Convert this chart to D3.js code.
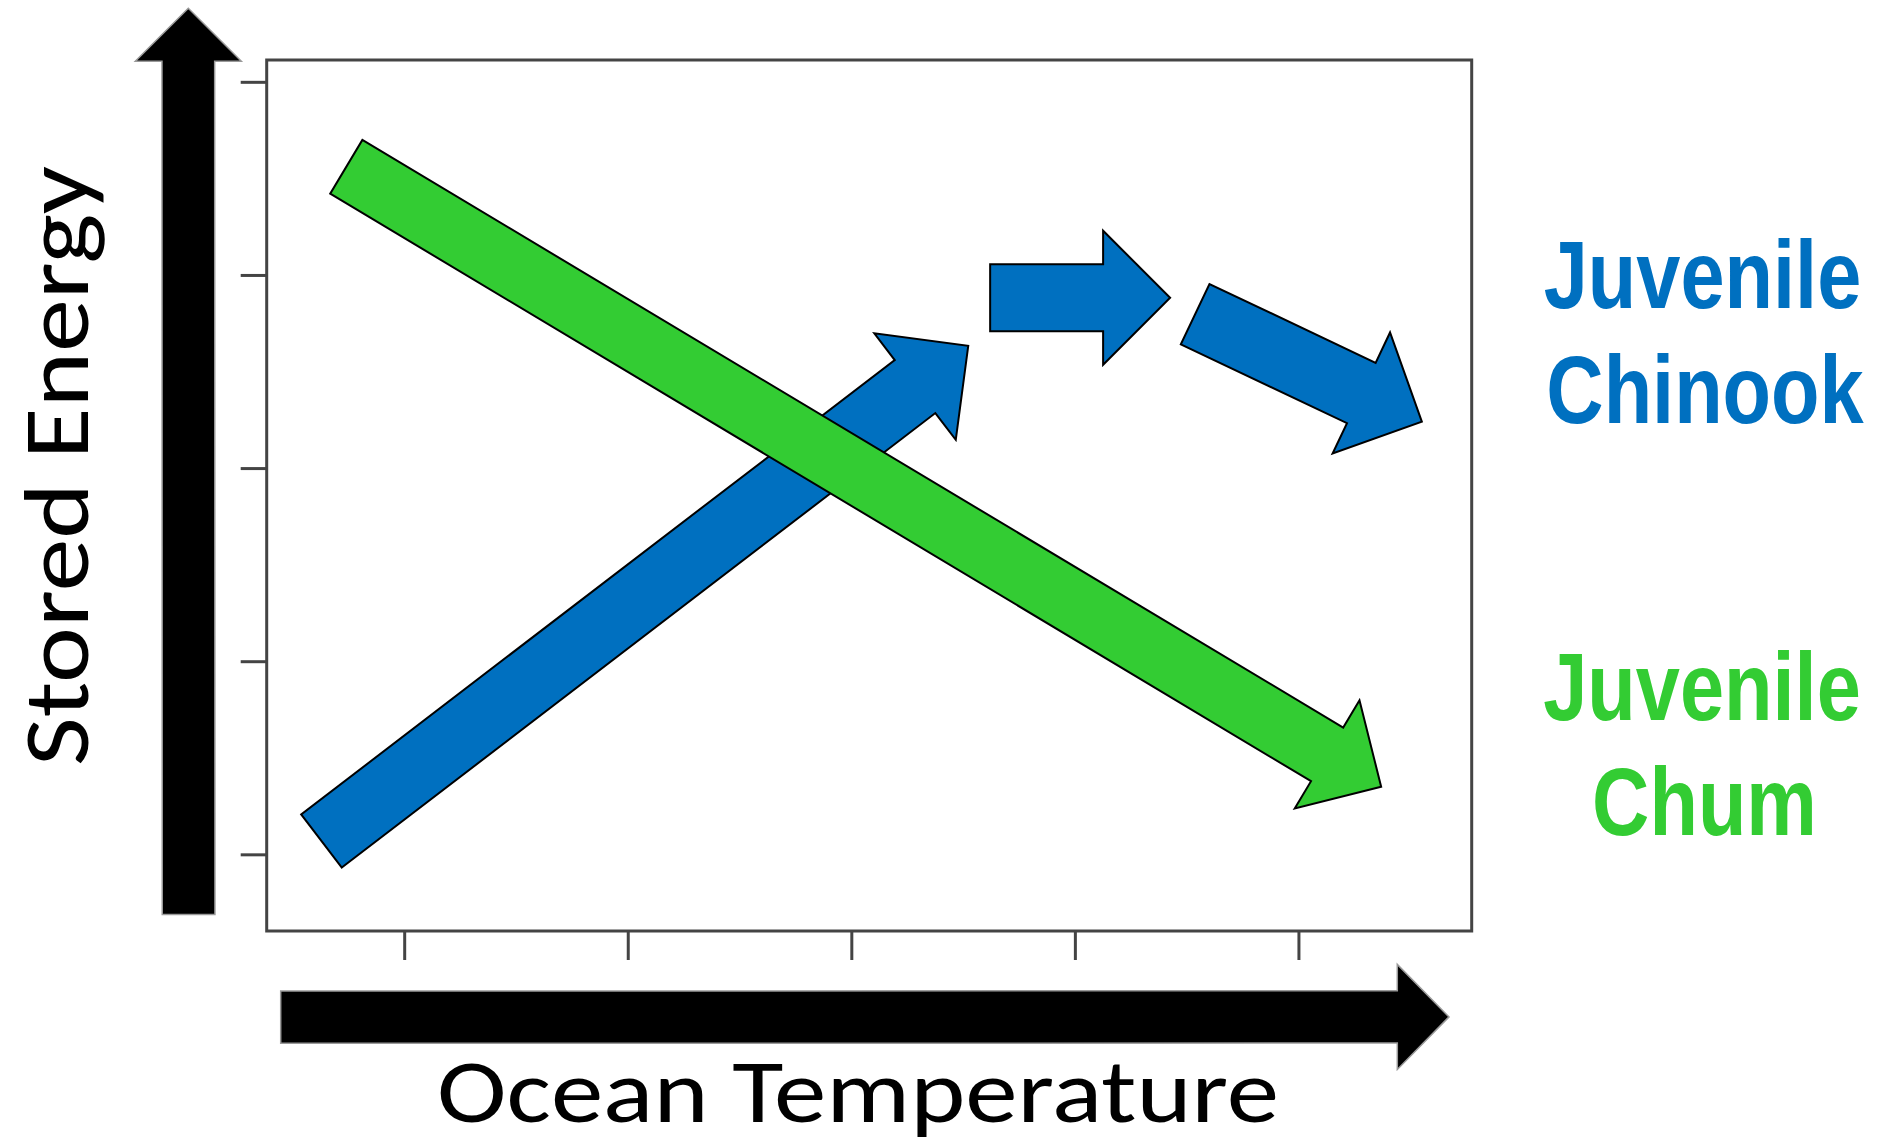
<!DOCTYPE html>
<html>
<head>
<meta charset="utf-8">
<script src="https://cdn.jsdelivr.net/npm/d3@7"></script>
<style>
  html, body { margin: 0; padding: 0; background: #fff; }
  svg { display: block; }
</style>
</head>
<body>
<svg id="chart" width="1887" height="1145"></svg>
<script>
// ---------- data (conceptual arrows in data units) ----------
const xTicks = [1, 2, 3, 4, 5];
const yTicks = [1, 2, 3, 4, 5];
const xDomain = [0.385, 5.775];
const yDomain = [0.603, 5.113];

// Juvenile Chinook trend segments: [x0, y0, x1, y1]
const chinookSegments = [
  [0.630, 1.069, 3.523, 3.633],
  [3.621, 3.882, 4.426, 3.882],
  [4.538, 3.797, 5.552, 3.240]
];
// Juvenile Chum trend
const chumSegments = [
  [0.741, 4.560, 5.370, 1.350]
];

const seriesLabels = [
  { lines: ["Juvenile", "Chinook"], color: "#0070C0" },
  { lines: ["Juvenile", "Chum"], color: "#33CC33" }
];
const xTitle = "Ocean Temperature";
const yTitle = "Stored Energy";

// ---------- layout ----------
const svg = d3.select("#chart");
const plot = { left: 266.7, right: 1471.7, top: 60, bottom: 931 };

const x = d3.scaleLinear().domain(xDomain).range([plot.left, plot.right]);
const y = d3.scaleLinear().domain(yDomain).range([plot.bottom, plot.top]);

function arrowPath(sx, sy, tx, ty, w, hw, hl) {
  const dx = tx - sx, dy = ty - sy;
  const L = Math.hypot(dx, dy);
  const ux = dx / L, uy = dy / L;
  const nx = -uy, ny = ux;
  const bx = tx - ux * hl, by = ty - uy * hl;
  const pts = [
    [sx + nx * w / 2, sy + ny * w / 2],
    [bx + nx * w / 2, by + ny * w / 2],
    [bx + nx * hw / 2, by + ny * hw / 2],
    [tx, ty],
    [bx - nx * hw / 2, by - ny * hw / 2],
    [bx - nx * w / 2, by - ny * w / 2],
    [sx - nx * w / 2, sy - ny * w / 2]
  ];
  return "M" + pts.map(p => p[0].toFixed(2) + "," + p[1].toFixed(2)).join("L") + "Z";
}

// ---------- black axis arrows ----------
svg.append("path")
  .attr("d", arrowPath(188.6, 914.6, 188.3, 8.3, 52.7, 106, 53))
  .attr("fill", "#000").attr("stroke", "#9a9a9a").attr("stroke-width", 1.5);
svg.append("path")
  .attr("d", arrowPath(280.7, 1017.2, 1449, 1016.9, 52.3, 105, 51.7))
  .attr("fill", "#000").attr("stroke", "#9a9a9a").attr("stroke-width", 1.5);

// ---------- plot frame & ticks ----------
svg.append("rect")
  .attr("x", plot.left).attr("y", plot.top)
  .attr("width", plot.right - plot.left).attr("height", plot.bottom - plot.top)
  .attr("fill", "none").attr("stroke", "#444").attr("stroke-width", 3);

const yAxis = svg.append("g")
  .attr("transform", `translate(${plot.left},0)`)
  .call(d3.axisLeft(y).tickValues(yTicks).tickSize(26).tickSizeOuter(0).tickFormat(""));
const xAxis = svg.append("g")
  .attr("transform", `translate(0,${plot.bottom})`)
  .call(d3.axisBottom(x).tickValues(xTicks).tickSize(29).tickSizeOuter(0).tickFormat(""));
[xAxis, yAxis].forEach(g => {
  g.select(".domain").remove();
  g.selectAll(".tick line").attr("stroke", "#444").attr("stroke-width", 3);
});

// ---------- trend arrows ----------
const g = svg.append("g");
chinookSegments.forEach(s => {
  g.append("path")
    .attr("d", arrowPath(x(s[0]), y(s[1]), x(s[2]), y(s[3]), 66.8, 134, 67))
    .attr("fill", "#0070C0").attr("stroke", "#000").attr("stroke-width", 2)
    .attr("stroke-linejoin", "miter");
});
chumSegments.forEach(s => {
  g.append("path")
    .attr("d", arrowPath(x(s[0]), y(s[1]), x(s[2]), y(s[3]), 62.6, 126, 63))
    .attr("fill", "#33CC33").attr("stroke", "#000").attr("stroke-width", 2)
    .attr("stroke-linejoin", "miter");
});

// ---------- titles ----------
svg.append("text")
  .attr("x", 858).attr("y", 1122)
  .attr("text-anchor", "middle")
  .attr("font-family", "Carlito, 'Open Sans', sans-serif")
  .attr("font-size", 90)
  .attr("textLength", 842).attr("lengthAdjust", "spacingAndGlyphs")
  .attr("fill", "#000")
  .text(xTitle);

svg.append("text")
  .attr("transform", "translate(88,466) rotate(-90)")
  .attr("text-anchor", "middle")
  .attr("font-family", "Carlito, 'Open Sans', sans-serif")
  .attr("font-size", 92)
  .attr("textLength", 600).attr("lengthAdjust", "spacingAndGlyphs")
  .attr("fill", "#000")
  .text(yTitle);

// ---------- series labels (Arial-like bold, horizontally condensed) ----------
const labelPos = [
  [{ cx: 1702.5, y: 308 }, { cx: 1705, y: 423 }],
  [{ cx: 1702, y: 720 }, { cx: 1704.5, y: 835 }]
];
const condense = 0.818;
seriesLabels.forEach((lab, i) => {
  lab.lines.forEach((line, j) => {
    const p = labelPos[i][j];
    svg.append("text")
      .attr("transform", `translate(${p.cx},${p.y}) scale(${condense},1)`)
      .attr("text-anchor", "middle")
      .attr("font-family", "'Liberation Sans', Arial, sans-serif")
      .attr("font-weight", "bold")
      .attr("font-size", 97)
      .attr("fill", lab.color)
      .text(line);
  });
});
</script>
</body>
</html>
